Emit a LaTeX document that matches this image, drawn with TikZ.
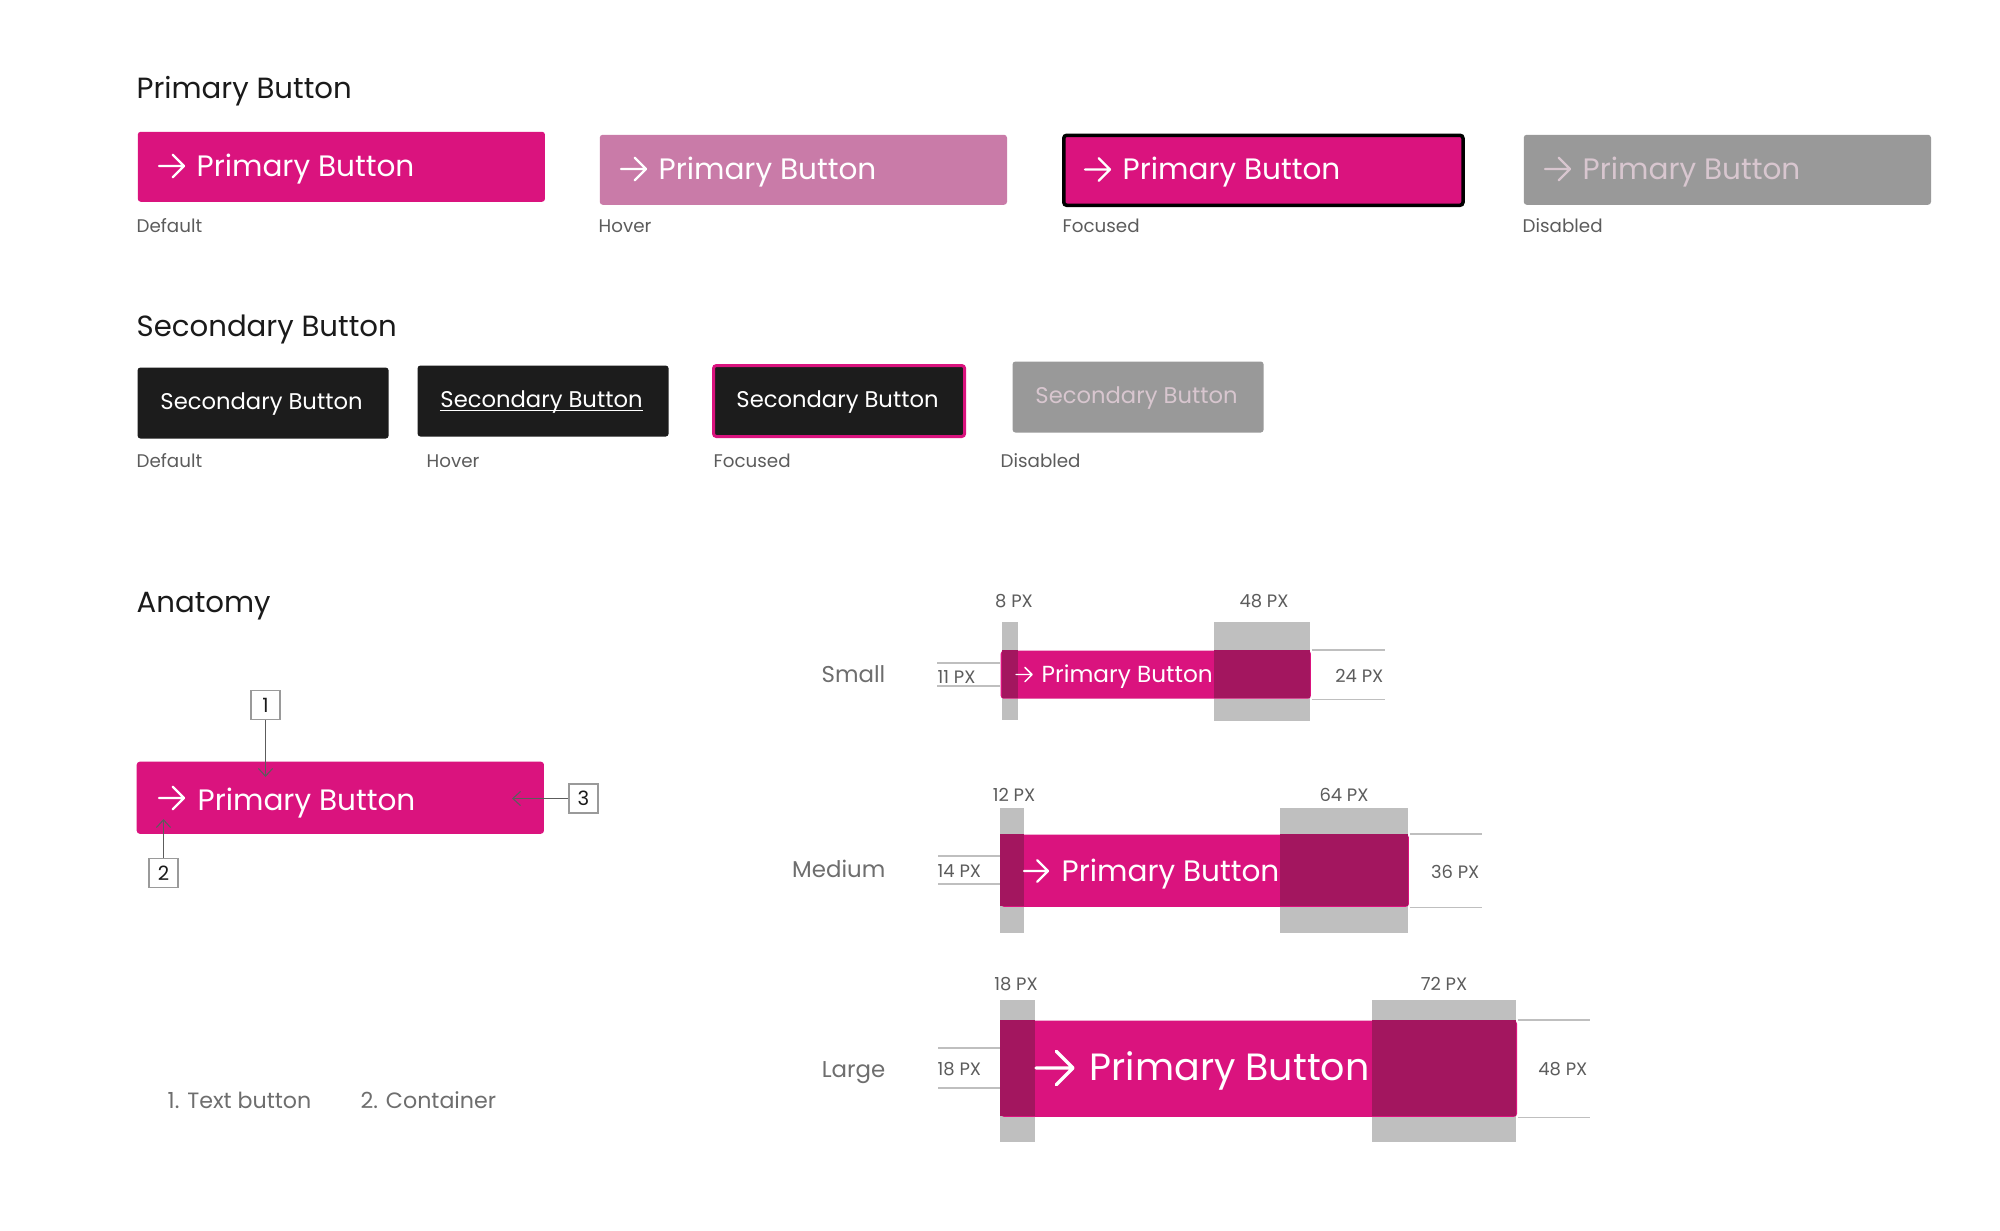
\documentclass[tikz,border=0pt]{standalone}
\usepackage{fontspec}
\setmainfont{Poppins}
\usetikzlibrary{arrows.meta}

\definecolor{btnpink}{HTML}{DA137E}
\definecolor{btnhover}{HTML}{C97BA8}
\definecolor{btndark}{HTML}{A3165F}
\definecolor{btngray}{HTML}{999999}
\definecolor{btnoff}{HTML}{D8C6CF}
\definecolor{btnblack}{HTML}{1C1C1C}
\definecolor{padgray}{HTML}{BFBFBF}
\definecolor{headink}{HTML}{1A1A1A}
\definecolor{inkgray}{HTML}{5C5C5C}
\definecolor{lightink}{HTML}{6E6E6E}
\definecolor{boxgray}{HTML}{9A9A9A}

\tikzset{
  goarrow/.pic={
    \draw[line width={#1*0.0009cm}, line cap=round, line join=round]
      (0,0) -- (#1,0) (0.55*#1,-0.45*#1) -- (#1,0) -- (0.55*#1,0.45*#1);
  },
  btn/.style={anchor=north west, inner sep=0pt, rounded corners=0.03cm},
  primbtn/.style={btn, fill=btnpink},
  btntext/.style={anchor=base west, inner sep=0pt, text=white, font=\fontsize{8.4}{10}\selectfont},
  sectext/.style={anchor=base, inner sep=0pt, font=\fontsize{6.45}{8}\selectfont},
  heading/.style={anchor=base west, inner sep=0pt, text=headink, font=\fontsize{8.3}{10}\selectfont},
  statelabel/.style={anchor=base west, inner sep=0pt, text=inkgray, font=\fontsize{5.2}{6}\selectfont},
  sizelabel/.style={anchor=base east, inner sep=0pt, text=lightink, font=\fontsize{6.5}{8}\selectfont},
  pxlabel/.style={inner sep=0pt, text=inkgray, font=\fontsize{5.1}{6}\selectfont},
  footnote/.style={anchor=base west, inner sep=0pt, text=lightink, font=\fontsize{6.3}{8}\selectfont},
  numbox/.style={draw=boxgray, line width=0.35pt, fill=white, minimum size=0.29cm, inner sep=0pt, text=headink, font=\fontsize{5.6}{6}\selectfont},
  callout/.style={draw=inkgray, line width=0.3pt, -{Straight Barb[length=2.2pt,width=4pt]}},
  dimline/.style={draw=padgray, line width=0.4pt}
}

\begin{document}
\begin{tikzpicture}[x=0.01cm, y=-0.01cm]
\fill[white] (0,0) rectangle (2000,1230);
\useasboundingbox (0,0) rectangle (2000,1230);

% primary buttons
\node[heading] (prim-h) at (136,98) {Primary Button};
\foreach \nm/\x/\y/\w/\bg/\fg/\edge/\lbl in {pdef/136/130/4.07/btnpink/white/none/Default, phov/598/133/4.07/btnhover/white/none/Hover, pfoc/1062/133.5/3.99/btnpink/white/black/Focused, pdis/1522/133/4.07/btngray/btnoff/none/Disabled}{
  \node[primbtn, fill=\bg, draw=\edge, line width=0.035cm, minimum width=\w cm, minimum height=0.70cm] (\nm) at (\x,\y) {};
  \path (\x+23,\y+36) pic[color=\fg] {goarrow=25};
  \node[btntext, text=\fg] (\nm-t) at (\x+60,\y+46) {Primary Button};
  \node[statelabel] (\nm-l) at (\x,232) {\lbl};
}

% secondary buttons
\node[heading] (sec-h) at (136,336) {Secondary Button};
\foreach \nm/\x/\y/\bg/\fg/\edge/\lx/\lbl in {sdef/136/366/btnblack/white/none/136/Default, shov/416/364/btnblack/white/none/426/Hover, sfoc/712/364/btnblack/white/btnpink/713/Focused, sdis/1011/360/btngray/btnoff/none/1000/Disabled}{
  \node[btn, fill=\bg, draw=\edge, line width=0.03cm, minimum width=2.51cm, minimum height=0.71cm] (\nm) at (\x,\y) {};
  \node[sectext, text=\fg] (\nm-t) at (\x+125.5,\y+43) {Secondary Button};
  \node[statelabel] (\nm-l) at (\lx,467) {\lbl};
}
\draw[white, line width=0.015cm] ([yshift=-0.035cm]shov-t.base west) -- ([yshift=-0.035cm]shov-t.base east);

% anatomy
\node[heading] (ana-h) at (136,612) {Anatomy};
\node[primbtn, minimum width=4.07cm, minimum height=0.72cm] (abtn) at (136,761) {};
\path (159,798) pic[color=white] {goarrow=25};
\node[btntext] (abtn-t) at (197,810) {Primary Button};
\node[numbox] (n1) at (265.5,705) {1};
\node[numbox] (n2) at (163.5,873) {2};
\node[numbox] (n3) at (583.5,798.5) {3};
\coordinate (tip1) at (265.5,777);
\coordinate (tip2) at (163.5,819);
\coordinate (tip3) at (512,798.5);
\draw[callout] (n1.south) -- (tip1);
\draw[callout] (n2.north) -- (tip2);
\draw[callout] (n3.west) -- (tip3);
\node[footnote] (f1) at (167,1108) {1. Text button};
\node[footnote] (f2) at (360,1108) {2. Container};

% small
\fill[padgray] (1002,622) rectangle (1018,720);
\fill[padgray] (1214,622) rectangle (1310,721);
\node[primbtn, minimum width=3.10cm, minimum height=0.48cm] (sbtn) at (1000,650) {};
\fill[btndark] (1002,650) rectangle (1018,698);
\fill[btndark] (1214,650) rectangle (1310,698);
\path (1016,674.5) pic[color=white] {goarrow=16};
\node[btntext, font=\fontsize{6.6}{8}\selectfont] (sbtn-t) at (1041,682) {Primary Button};
\draw[dimline] (937,663) -- (1000,663) (937,686) -- (1000,686);
\draw[dimline] (sbtn.north east) -- ++(73,0) (sbtn.south east) -- ++(73,0);
\node[sizelabel] (small-l) at (886,682) {Small};
\node[pxlabel, anchor=base west] (s-11) at (937,683) {11 PX};
\node[pxlabel, anchor=base east] (s-24) at (1384,682) {24 PX};
\node[pxlabel, anchor=base] (s-8) at (1014,607) {8 PX};
\node[pxlabel, anchor=base] (s-48) at (1264,607) {48 PX};

% medium
\fill[padgray] (1000,808) rectangle (1024,933);
\fill[padgray] (1280,808) rectangle (1408,933);
\node[primbtn, minimum width=4.08cm, minimum height=0.72cm] (mbtn) at (1000,834) {};
\fill[btndark] (1000,834) rectangle (1024,906);
\fill[btndark] (1280,834) rectangle (1408,906);
\path (1024,871) pic[color=white] {goarrow=24};
\node[btntext] (mbtn-t) at (1061,881) {Primary Button};
\draw[dimline] (938,856) -- (1000,856) (938,884) -- (1000,884);
\draw[dimline] (mbtn.north east) -- ++(72,0) (mbtn.south east) -- ++(72,0);
\node[sizelabel] (medium-l) at (886,877) {Medium};
\node[pxlabel, anchor=base west] (m-14) at (937,877) {14 PX};
\node[pxlabel, anchor=base east] (m-36) at (1480,878) {36 PX};
\node[pxlabel, anchor=base] (m-12) at (1014,801) {12 PX};
\node[pxlabel, anchor=base] (m-64) at (1344,801) {64 PX};

% large
\fill[padgray] (1000,1000) rectangle (1035,1142);
\fill[padgray] (1372,1000) rectangle (1516,1142);
\node[primbtn, minimum width=5.16cm, minimum height=0.96cm] (lbtn) at (1000,1020) {};
\fill[btndark] (1000,1020) rectangle (1035,1116);
\fill[btndark] (1372,1020) rectangle (1516,1116);
\path (1036,1068) pic[color=white] {goarrow=37};
\node[btntext, font=\fontsize{10.8}{12}\selectfont] (lbtn-t) at (1089,1080) {Primary Button};
\draw[dimline] (938,1048) -- (1000,1048) (938,1088) -- (1000,1088);
\draw[dimline] (lbtn.north east) -- ++(72,0) (lbtn.south east) -- ++(72,0);
\node[sizelabel] (large-l) at (886,1077) {Large};
\node[pxlabel, anchor=base west] (l-18) at (937,1075) {18 PX};
\node[pxlabel, anchor=base east] (l-48) at (1588,1075) {48 PX};
\node[pxlabel, anchor=base] (l-18t) at (1016,990) {18 PX};
\node[pxlabel, anchor=base] (l-72) at (1444,990) {72 PX};
\end{tikzpicture}
\end{document}
